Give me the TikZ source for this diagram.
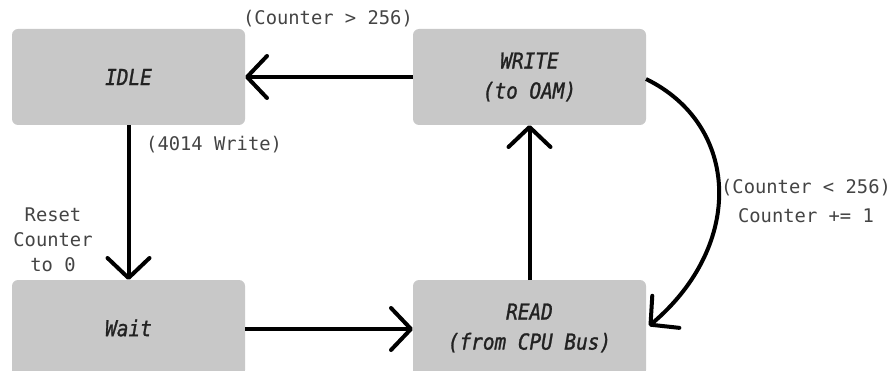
\documentclass[tikz,border=0pt]{standalone}
\usepackage{fontspec}
\usetikzlibrary{arrows.meta}
\newfontfamily\lblfont{DejaVu Sans Mono}
\newfontfamily\boxfont{DejaVu Sans Mono}[UprightFont=*-Oblique, FakeStretch=0.88, FakeBold=1.2]
\definecolor{boxgray}{HTML}{C8C8C8}
\definecolor{lblgray}{HTML}{444444}
\definecolor{txtdark}{HTML}{222222}
\tikzset{
  state/.style={fill=boxgray, rounded corners=6pt, minimum width=233pt, minimum height=96pt,
    inner sep=0pt, outer sep=0pt, align=center, text=txtdark,
    font=\boxfont\fontsize{22}{30}\selectfont},
  lbl/.style={text=lblgray, align=center, inner sep=0pt,
    font=\lblfont\fontsize{18.8}{25}\selectfont},
  conn/.style={line width=4pt, -{Straight Barb[length=20pt,width=42pt,round]}}
}
\begin{document}
\begin{tikzpicture}[x=1pt,y=-1pt]
\useasboundingbox (0,0) rectangle (893,371);
\clip (0,0) rectangle (893,371);
\node[state] (idle)  at (128.5,77)  {IDLE};
\node[state] (write) at (529.5,77)  {WRITE\\(to OAM)};
\node[state] (wait)  at (128.5,328) {Wait};
\node[state] (read)  at (529.5,328) {READ\\(from CPU Bus)};

\draw[conn] (write.west) -- (idle.east);
\draw[conn] (idle.south) -- (wait.north);
\draw[conn] ([yshift=-1pt]wait.east) -- ([yshift=-1pt]read.west);
\draw[conn] (read.north) -- (write.north |- write.south);
\draw[conn] ([yshift=-2pt]write.east) .. controls (740,125) and (745,245) .. ([xshift=3pt,yshift=2pt]read.east);

\node[lbl] (l1) at (328,19) {(Counter > 256)};
\node[lbl, anchor=west] (l2) at (146,145) {(4014 Write)};
\node[lbl] (l3) at (53,240) {Reset\\Counter\\to 0};
\node[lbl] (l4) at (806,188) {(Counter < 256)};
\node[lbl] (l5) at (806,216) {Counter += 1};
\end{tikzpicture}
\end{document}
